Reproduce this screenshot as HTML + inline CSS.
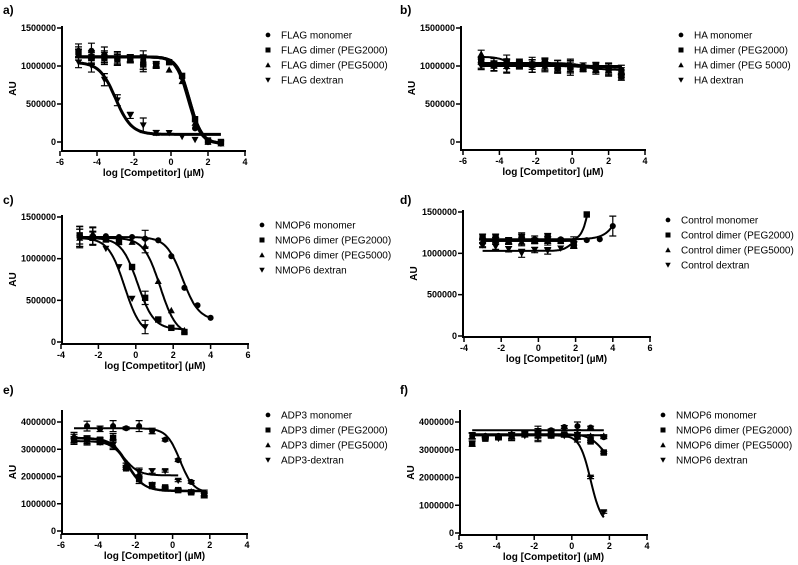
<!DOCTYPE html>
<html><head><meta charset="utf-8"><style>
body{margin:0;background:#fff}
svg{display:block;font-family:"Liberation Sans",Arial,sans-serif}
.tk{font-size:9px;font-weight:bold}
.lg{font-size:10px}
.ttl{font-size:10px;font-weight:bold}
</style></head><body>
<svg id="fig" width="798" height="565" viewBox="0 0 798 565"></svg>
<script>
// ---- data ----
const aX=[-5,-4.3,-3.6,-2.9,-2.2,-1.5,-0.8,-0.1,0.6,1.3,2.0,2.7];
const aMono=[1.2,1.2,1.15,1.1,1.1,1.08,1.02,1.06,0.85,0.18,0,-0.02];
const aP2=[1.18,1.12,1.12,1.1,1.1,1.02,1.02,1.05,0.87,0.3,0.02,0];
const aP5=[1.15,1.1,1.1,1.08,1.08,1.05,1.0,0.95,0.8,0.25,0,-0.02];
const aDex=[1.05,1.0,0.82,0.55,0.35,0.22,0.12,0.12,0.07,0.03,0,-0.02];
const aErr=[0.09,0.1,0.1,0.09,0.05,0.12,0.04,0.02,0.03,0.03,0.02,0.02];
const aFit=[[1.12,-0.02,1.0,-1.3],[1.12,-0.02,1.0,-1.3],[1.12,-0.02,0.95,-1.3],[1.05,0.1,-3,-1]];

const bX=[-5,-4.3,-3.6,-2.9,-2.2,-1.5,-0.8,-0.1,0.6,1.3,2.0,2.7];
const bMono=[1.03,1.0,1.0,1.02,1.0,1.02,1.0,1.0,1.0,0.98,0.96,0.95];
const bP2=[1.07,1.02,1.03,1.05,1.02,1.05,0.97,0.98,0.96,1.0,0.97,0.86];
const bP5=[1.16,1.05,1.08,1.02,1.05,1.0,1.02,1.0,0.98,0.96,0.95,0.93];
const bDex=[1.0,0.98,0.97,1.0,0.98,0.98,0.96,0.95,0.96,0.94,0.93,0.9];
const bErr=[0.06,0.06,0.08,0.05,0.08,0.07,0.07,0.09,0.04,0.06,0.08,0.06];
const bFit=[[1.02,1.0,0,-1],[1.04,0.98,0.5,-1],[1.12,1.0,-3.6,-1.5],[1.0,0.95,1,-1]];

const cX=[-3,-2.3,-1.6,-0.9,-0.2,0.5,1.2,1.9,2.6,3.3,4.0];
const cMono=[1.26,1.27,1.27,1.26,1.26,1.24,1.22,1.03,0.65,0.44,0.29];
const cP2=[1.28,1.25,1.23,1.2,0.9,0.53,0.27,0.17,0.12];
const cP5=[1.25,1.3,1.23,1.2,1.2,1.15,0.73,0.38,0.14];
const cDex=[1.25,1.24,1.12,0.9,0.52,0.18];
const cErr=[0.13,0.1,0.02,0.02,0.02,0.1,0.02,0.03,0.02,0.02,0.02];
const cFit=[[1.26,0.26,2.5,-1],[1.25,0.15,0.1,-1],[1.25,0.08,1.3,-1],[1.25,0.08,-0.6,-1]];

const dX=[-3,-2.3,-1.6,-0.9,-0.2,0.5,1.2,1.9,2.6,3.3,4.0];
const dMono=[1.12,1.15,1.15,1.17,1.17,1.15,1.17,1.15,1.16,1.17,1.33];
const dP2=[1.2,1.2,1.15,1.2,1.15,1.2,1.15,1.1,1.47];
const dP5=[1.15,1.16,1.14,1.14,1.15,1.16,1.15,1.1];
const dDex=[1.1,1.08,1.05,1.0,1.04,1.03,1.06,1.1];
const dErr=[0.04,0.04,0.04,0.06,0.04,0.05,0.03,0.05,0.03,0.03,0.12];
const dFit=[[1.17,3,5,-1],[1.15,3,3,-1.8],[1.15,1.15,0,-1],[1.03,1.17,1.7,-2]];

const eX=[-5.3,-4.6,-3.9,-3.2,-2.5,-1.8,-1.1,-0.4,0.3,1.0,1.7];
const eMono=[3.4,3.85,3.75,3.85,3.77,3.85,3.67,3.35,2.6,1.8,1.4];
const eP2=[3.35,3.35,3.35,3.42,2.3,1.9,1.65,1.6,1.5,1.42,1.35];
const eP5=[3.5,3.35,3.3,3.2,2.45,2.1,1.7,1.55,1.5,1.45,1.3];
const eDex=[3.3,3.3,3.25,3.15,2.3,2.15,2.2,2.2,1.85];
const eErr=[0.15,0.18,0.1,0.2,0.05,0.2,0.1,0.05,0.05,0.05,0.1];
const eFit=[[3.77,1.4,0.4,-1.2],[3.4,1.48,-2.45,-1],[3.42,1.46,-2.4,-1],[3.3,2.04,-2.6,-1.1]];

const fX=[-5.3,-4.6,-3.9,-3.2,-2.5,-1.8,-1.1,-0.4,0.3,1.0,1.7];
const fMono=[3.5,3.5,3.5,3.55,3.6,3.65,3.7,3.82,3.85,3.8,3.45];
const fP2=[3.22,3.4,3.45,3.5,3.6,3.6,3.55,3.55,3.5,3.3,2.9];
const fP5=[3.5,3.5,3.45,3.5,3.55,3.5,3.5,3.55,3.6,3.5,3.5];
const fDex=[3.5,3.45,3.4,3.45,3.5,3.45,3.5,3.5,3.4,2.0,0.75];
const fErr=[0.12,0.05,0.05,0.15,0.05,0.2,0.05,0.05,0.15,0.05,0.05];
const fFit=[[3.7,3.7,0,-1],[3.56,2.5,1.6,-1.2],[3.52,3.52,0,-1],[3.52,0.3,1.0,-1.5]];

// ---- layout ----
const NS='http://www.w3.org/2000/svg';
const svg=document.getElementById('fig');
function mk(tag,attrs,parent,txt){const e=document.createElementNS(NS,tag);for(const k in attrs)e.setAttribute(k,attrs[k]);if(txt!==undefined)e.textContent=txt;(parent||svg).appendChild(e);return e;}
const shapes=['circle','square','tri-up','tri-down'];
function marker(g,shape,x,y,s){
  if(shape==='circle')return mk('circle',{cx:x,cy:y,r:s*0.95},g);
  if(shape==='square')return mk('rect',{x:x-s,y:y-s,width:2*s,height:2*s},g);
  if(shape==='tri-up')return mk('polygon',{points:`${x},${y-s*1.1} ${x-s*1.1},${y+s*0.9} ${x+s*1.1},${y+s*0.9}`},g);
  return mk('polygon',{points:`${x},${y+s*1.1} ${x-s*1.1},${y-s*0.9} ${x+s*1.1},${y-s*0.9}`},g);
}
const panels=[
 {id:'a',lx:3,ly:14,yax:62,x0:-6,x1:4,px0:60,px1:245,yMax:1.5,yStep:0.5,py0:142,py1:28,axY:151,yTop:26,
  xs:aX,ser:[aMono,aP2,aP5,aDex],err:aErr,fit:aFit,lgx:268,lgy:35,
  names:['FLAG monomer','FLAG dimer (PEG2000)','FLAG dimer (PEG5000)','FLAG dextran'],xt:[-6,-4,-2,0,2,4],sw:3},
 {id:'b',lx:400,ly:14,yax:461,x0:-6,x1:4,px0:463,px1:645,yMax:1.5,yStep:0.5,py0:142,py1:28,axY:150,yTop:26,
  xs:bX,ser:[bMono,bP2,bP5,bDex],err:bErr,fit:bFit,lgx:681,lgy:35,
  names:['HA monomer','HA dimer (PEG2000)','HA dimer (PEG 5000)','HA dextran'],xt:[-6,-4,-2,0,2,4],sw:2},
 {id:'c',lx:3,ly:204,yax:62,x0:-4,x1:6,px0:61,px1:248,yMax:1.5,yStep:0.5,py0:342,py1:217,axY:344,yTop:215,
  xs:cX,ser:[cMono,cP2,cP5,cDex],err:cErr,fit:cFit,lgx:262,lgy:225,
  names:['NMOP6 monomer','NMOP6 dimer (PEG2000)','NMOP6 dimer (PEG5000)','NMOP6 dextran'],xt:[-4,-2,0,2,4,6],sw:2},
 {id:'d',lx:400,ly:204,yax:463,x0:-4,x1:6,px0:464,px1:650,yMax:1.5,yStep:0.5,py0:336,py1:212,axY:337,yTop:210,
  xs:dX,ser:[dMono,dP2,dP5,dDex],err:dErr,fit:dFit,lgx:668,lgy:220,
  names:['Control monomer','Control dimer (PEG2000)','Control dimer (PEG5000)','Control dextran'],xt:[-4,-2,0,2,4,6],sw:2},
 {id:'e',lx:3,ly:394,yax:62,x0:-6,x1:4,px0:61,px1:247,yMax:4,yStep:1,py0:531,py1:422,axY:534,yTop:410,
  xs:eX,ser:[eMono,eP2,eP5,eDex],err:eErr,fit:eFit,lgx:268,lgy:415,
  names:['ADP3 monomer','ADP3 dimer (PEG2000)','ADP3 dimer (PEG5000)','ADP3-dextran'],xt:[-6,-4,-2,0,2,4],sw:2},
 {id:'f',lx:400,ly:394,yax:460,x0:-6,x1:4,px0:459,px1:647,yMax:4,yStep:1,py0:533,py1:422,axY:535,yTop:410,
  xs:fX,ser:[fMono,fP2,fP5,fDex],err:fErr,fit:fFit,lgx:663,lgy:415,
  names:['NMOP6 monomer','NMOP6 dimer (PEG2000)','NMOP6 dimer (PEG5000)','NMOP6 dextran'],xt:[-6,-4,-2,0,2,4],sw:2},
];
const serKeys=['monomer','dimer-peg2000','dimer-peg5000','dextran'];
panels.forEach(p=>{
  const g=mk('g',{});
  
  
  const sx=v=>p.px0+(v-p.x0)/(p.x1-p.x0)*(p.px1-p.px0);
  const sy=v=>p.py0+(v/p.yMax)*(p.py1-p.py0);
  const lab=mk('text',{x:p.lx,y:p.ly,'font-size':12,'font-weight':'bold'},g,p.id+')');
  
  
  const ya=mk('line',{x1:p.yax,y1:p.yTop,x2:p.yax,y2:p.axY,stroke:'#000','stroke-width':2},g);
  
  
  const xa=mk('line',{x1:p.yax-1,y1:p.axY,x2:p.px1+1,y2:p.axY,stroke:'#000','stroke-width':2},g);
  
  
  for(let v=0;v<=p.yMax+1e-9;v+=p.yStep){
    const y=sy(v);
    mk('line',{x1:p.yax-5,y1:y,x2:p.yax,y2:y,stroke:'#000','stroke-width':1.5},g);
    const t=mk('text',{x:p.yax-6,y:y+3,'text-anchor':'end',class:'tk'},g,String(Math.round(v*1e6)));
    
    
  }
  p.xt.forEach(v=>{
    const x=sx(v);
    mk('line',{x1:x,y1:p.axY,x2:x,y2:p.axY+5,stroke:'#000','stroke-width':1.5},g);
    const t=mk('text',{x:x,y:p.axY+14,'text-anchor':'middle',class:'tk'},g,String(v));
    
    
  });
  const xt=mk('text',{x:(p.yax+p.px1)/2,y:p.axY+25,'text-anchor':'middle',class:'ttl'},g,'log [Competitor] (µM)');
  
  
  const cy=(p.yTop+p.axY)/2;
  const yt=mk('text',{x:p.yax-50,y:cy+4,'text-anchor':'middle',class:'ttl',transform:`rotate(-90 ${p.yax-50} ${cy})`},g,'AU');
  
  
  p.ser.forEach((ys,si)=>{
    const sg=mk('g',{},g);
    
    
    const f=p.fit[si];
    const xs0=p.xs[0],xs1=p.xs[ys.length-1];
    let d='';
    for(let i=0;i<=120;i++){
      const x=xs0+(xs1-xs0)*i/120;
      const y=f[1]+(f[0]-f[1])/(1+Math.pow(10,(x-f[2])*(-f[3])));
      d+=(i?'L':'M')+sx(x).toFixed(1)+','+sy(y).toFixed(1);
    }
    const c=mk('path',{d:d,fill:'none',stroke:'#000','stroke-width':p.sw},sg);
    
    
    ys.forEach((v,i)=>{
      const x=sx(p.xs[i]),y=sy(v);
      const e=p.err[i]*(si===0?1:0.8);
      if(e>0.03){
        const top=sy(v+e),bot=sy(v-e);
        mk('path',{d:`M${x},${top}V${bot}M${x-3.5},${top}H${x+3.5}M${x-3.5},${bot}H${x+3.5}`,stroke:'#000','stroke-width':1.2,fill:'none'},sg);
      }
      const m=marker(sg,shapes[si],x,y,3.2);
      
      
    });
  });
  const lg=mk('g',{},g);
  
  
  p.names.forEach((n,i)=>{
    const y=p.lgy+i*15;
    const e=mk('g',{},lg);
    
    
    marker(e,shapes[i],p.lgx,y,2.5);
    mk('text',{x:p.lgx+13,y:y+3.5,class:'lg'},e,n);
  });
});
</script>
</body></html>
